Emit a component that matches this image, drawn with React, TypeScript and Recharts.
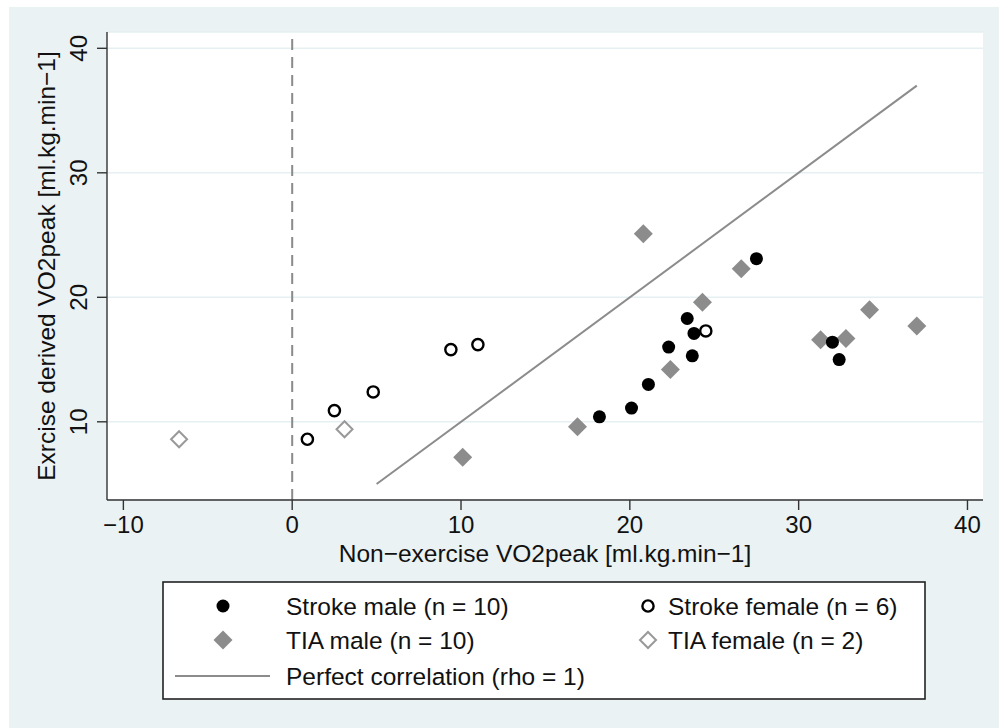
import { ScatterChart, Scatter, XAxis, YAxis, CartesianGrid, ReferenceLine } from "recharts";

// values
const X_TICKS = [-10, 0, 10, 20, 30, 40];
const Y_TICKS = [10, 20, 30, 40];

const STROKE_MALE_X = [18.2, 20.1, 21.1, 22.3, 23.4, 23.7, 23.8, 27.5, 32.0, 32.4];
const STROKE_MALE_Y = [10.4, 11.1, 13.0, 16.0, 18.3, 15.3, 17.1, 23.1, 16.4, 15.0];
const STROKE_FEMALE_X = [0.9, 2.5, 4.8, 9.4, 11.0, 24.5];
const STROKE_FEMALE_Y = [8.6, 10.9, 12.4, 15.8, 16.2, 17.3];
const TIA_MALE_X = [10.1, 16.9, 20.8, 22.4, 24.3, 26.6, 31.3, 32.8, 34.2, 37.0];
const TIA_MALE_Y = [7.15, 9.6, 25.1, 14.2, 19.6, 22.3, 16.6, 16.7, 19.0, 17.7];
const TIA_FEMALE_X = [-6.7, 3.1];
const TIA_FEMALE_Y = [8.6, 9.4];
const PERFECT_X = [5, 37];
const PERFECT_Y = [5, 37];

const LABEL_SM = "Stroke male (n = 10)";
const LABEL_SF = "Stroke female (n = 6)";
const LABEL_TM = "TIA male (n = 10)";
const LABEL_TF = "TIA female (n = 2)";
const LABEL_PC = "Perfect correlation (rho = 1)";

const X_TITLE = "Non\u2212exercise VO2peak [ml.kg.min\u22121]";
const Y_TITLE = "Exrcise derived VO2peak [ml.kg.min\u22121]";

const FONT = '"Liberation Sans", Arial, Helvetica, sans-serif';
const GREY = "#8c8c8c";

const zip = (xs: number[], ys: number[]) => xs.map((x, i) => ({ x, y: ys[i] }));

const fmt = (v: number) => (v < 0 ? `\u2212${Math.abs(v)}` : `${v}`);

const FilledCircle = ({ cx, cy }: any) => <circle cx={cx} cy={cy} r={6.5} fill="#000" />;
const HollowCircle = ({ cx, cy }: any) => (
  <circle cx={cx} cy={cy} r={5.6} fill="none" stroke="#000" strokeWidth={2.4} />
);
const FilledDiamond = ({ cx, cy }: any) => {
  const r = 9.5;
  return <path d={`M${cx},${cy - r}L${cx + r},${cy}L${cx},${cy + r}L${cx - r},${cy}Z`} fill={GREY} />;
};
const HollowDiamond = ({ cx, cy }: any) => {
  const r = 8;
  return (
    <path
      d={`M${cx},${cy - r}L${cx + r},${cy}L${cx},${cy + r}L${cx - r},${cy}Z`}
      fill="none"
      stroke="#999"
      strokeWidth={2}
    />
  );
};

const XTick = ({ x, y, payload }: any) => (
  <text x={x} y={y + 21} textAnchor="middle" fontSize={24} fontFamily={FONT} fill="#111">
    {fmt(payload.value)}
  </text>
);

const YTick = ({ x, y, payload }: any) => (
  <text
    x={x - 8}
    y={y}
    textAnchor="middle"
    fontSize={24}
    fontFamily={FONT}
    fill="#111"
    transform={`rotate(-90, ${x - 8}, ${y})`}
  >
    {fmt(payload.value)}
  </text>
);

const LegendBox = () => (
  <svg width={766} height={122} style={{ position: "absolute", left: 161, top: 580 }}>
    <rect x={2} y={2} width={762} height={117} fill="#fff" stroke="#222" strokeWidth={1.6} />
    <g fontFamily={FONT} fontSize={24.5} fill="#111">
      <FilledCircle cx={62} cy={26} />
      <text x={125} y={35}>{LABEL_SM}</text>
      <HollowCircle cx={487} cy={26} />
      <text x={507} y={35}>{LABEL_SF}</text>
      <FilledDiamond cx={62} cy={60} />
      <text x={125} y={69}>{LABEL_TM}</text>
      <HollowDiamond cx={487} cy={60} />
      <text x={507} y={69}>{LABEL_TF}</text>
      <line x1={14} x2={109} y1={96} y2={96} stroke={GREY} strokeWidth={2} />
      <text x={125} y={105}>{LABEL_PC}</text>
    </g>
  </svg>
);

export default function App() {
  return (
    <div style={{ position: "absolute", left: 0, top: 0, width: 999, height: 728, background: "#fff" }}>
      <div style={{ position: "absolute", left: 9, top: 7, right: 0, bottom: 0, background: "#eaf2f3" }} />
      <div style={{ position: "absolute", left: 0, top: 0 }}>
        <ScatterChart width={999} height={728} margin={{ top: 32, right: 16, left: 0, bottom: 0 }}>
          <CartesianGrid vertical={false} fill="#fff" stroke="#e6eff1" strokeWidth={1.5} />
          <XAxis
            type="number"
            dataKey="x"
            domain={[-10.97, 40.92]}
            ticks={X_TICKS}
            allowDataOverflow
            height={228}
            tickSize={10}
            stroke="#333"
            strokeWidth={1.4}
            tick={<XTick />}
            label={{
              value: X_TITLE,
              position: "insideTop",
              offset: 45,
              fontSize: 24.5,
              fontFamily: FONT,
              fill: "#111",
            }}
          />
          <YAxis
            type="number"
            dataKey="y"
            domain={[3.72, 41.31]}
            ticks={Y_TICKS}
            allowDataOverflow
            width={107}
            tickSize={10}
            stroke="#333"
            strokeWidth={1.4}
            tick={<YTick />}
            label={{
              value: Y_TITLE,
              angle: -90,
              position: "insideLeft",
              offset: 46,
              fontSize: 24.5,
              fontFamily: FONT,
              fill: "#111",
              style: { textAnchor: "middle" },
            }}
          />
          <ReferenceLine x={0} stroke="#8a8a8a" strokeWidth={2} strokeDasharray="11 7" />
          <Scatter
            data={zip(PERFECT_X, PERFECT_Y)}
            line={{ stroke: GREY, strokeWidth: 2 }}
            shape={() => <g />}
            isAnimationActive={false}
          />
          <Scatter data={zip(TIA_MALE_X, TIA_MALE_Y)} shape={<FilledDiamond />} isAnimationActive={false} />
          <Scatter data={zip(TIA_FEMALE_X, TIA_FEMALE_Y)} shape={<HollowDiamond />} isAnimationActive={false} />
          <Scatter data={zip(STROKE_MALE_X, STROKE_MALE_Y)} shape={<FilledCircle />} isAnimationActive={false} />
          <Scatter data={zip(STROKE_FEMALE_X, STROKE_FEMALE_Y)} shape={<HollowCircle />} isAnimationActive={false} />
        </ScatterChart>
      </div>
      <LegendBox />
    </div>
  );
}
